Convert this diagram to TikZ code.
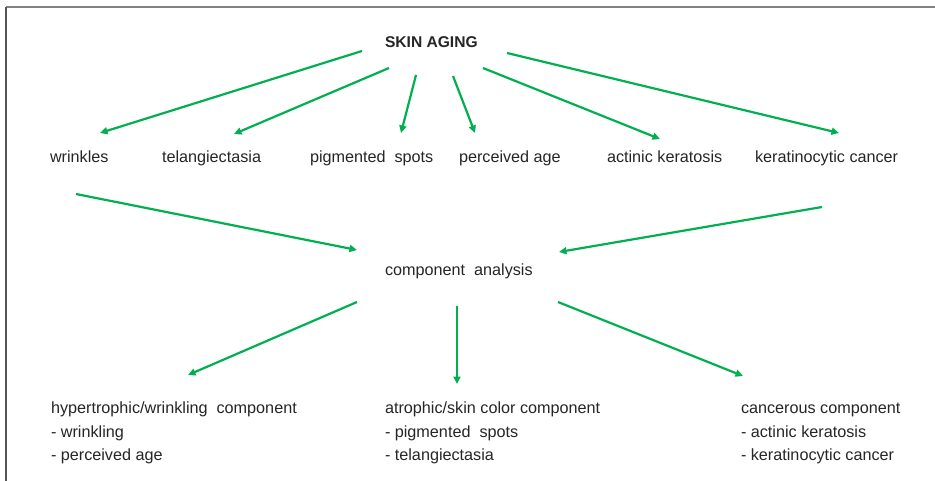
\documentclass[tikz,border=0pt]{standalone}
\usepackage{fontspec}
\setmainfont{Liberation Sans}
\usetikzlibrary{arrows.meta,calc}
\definecolor{arrgreen}{RGB}{0,176,80}
\definecolor{frameA}{RGB}{130,130,130}
\definecolor{frameB}{RGB}{85,85,85}
\tikzset{
  lbl/.style={anchor=base west,inner sep=0pt,outer sep=0pt,font=\fontsize{16.2}{23.5}\selectfont,text=black!85},
  multi/.style={lbl,align=left},
  arr/.style={draw=arrgreen,line width=2.2pt,-{Triangle[length=7.5pt,width=7pt]}},
}
\begin{document}
\begin{tikzpicture}[x=1pt,y=-1pt]
\useasboundingbox (0,0) rectangle (935,481);
\fill[white] (0,0) rectangle (935,481);
\draw[frameA,line width=2pt] (6,7) -- (935,7);
\draw[frameB,line width=2pt] (6,7) -- (6,481);

\node[lbl,font=\fontsize{15.6}{19}\selectfont\bfseries] (top) at (385,47.5) {SKIN AGING};
\node[lbl] (w)  at (50,162.5)  {wrinkles};
\node[lbl] (t)  at (162,162.5) {telangiectasia};
\node[lbl] (p)  at (310,162.5) {pigmented~ spots};
\node[lbl] (pa) at (459,162.5) {perceived age};
\node[lbl] (ak) at (607,162.5) {actinic keratosis};
\node[lbl] (kc) at (755,162.5) {keratinocytic cancer};
\node[lbl] (ca) at (385,276) {component~ analysis};
\node[multi] (h) at (51,460.5) {hypertrophic/wrinkling~ component\\- wrinkling\\- perceived age};
\node[multi] (a) at (385,460.5) {atrophic/skin color component\\- pigmented~ spots\\- telangiectasia};
\node[multi] (c) at (741,460.5) {cancerous component\\- actinic keratosis\\- keratinocytic cancer};

\draw[arr] ($(top.base west)+(-23,3.5)$) -- ($(w.base west)+(50,-29.5)$);
\draw[arr] ($(top.base west)+(4,20.5)$)  -- ($(t.base west)+(72,-28.5)$);
\draw[arr] ($(top.base west)+(31,27.5)$) -- ($(p.base west)+(91,-29.5)$);
\draw[arr] ($(top.base west)+(68,28.5)$) -- ($(pa.base west)+(16,-29.5)$);
\draw[arr] ($(top.base west)+(98,20.5)$) -- ($(ak.base west)+(53,-23.5)$);
\draw[arr] ($(top.base west)+(122,5.5)$) -- ($(kc.base west)+(84,-29.5)$);
\draw[arr] ($(w.base west)+(26,31.5)$)   -- ($(ca.base west)+(-28,-26)$);
\draw[arr] ($(kc.base west)+(67,44.5)$)  -- ($(ca.base west)+(174,-24)$);
\draw[arr] ($(ca.base west)+(-28,26)$) -- ($(h.base west)+(137,-85.5)$);
\draw[arr] ($(ca.base west)+(72,30)$)  -- ($(a.base west)+(72,-76.5)$);
\draw[arr] ($(ca.base west)+(173,26)$) -- ($(c.base west)+(2,-84.5)$);
\end{tikzpicture}
\end{document}
